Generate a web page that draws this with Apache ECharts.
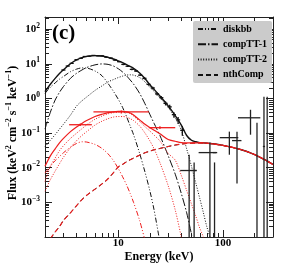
<!DOCTYPE html>
<html><head><meta charset="utf-8">
<script src="https://cdn.jsdelivr.net/npm/echarts@6/dist/echarts.min.js"></script>
<style>html,body{margin:0;padding:0;background:#fff}#c{width:303px;height:265px}</style>
</head><body><div id="c"></div>
<script>
// ---- data (energy keV, flux keV^2 cm^-2 s^-1 keV^-1) ----
const modelE = [2,2.25,2.5,2.75,3,3.5,4,4.5,5,6,7,8,9,10,11,12,13,14,16,18,20,22,25,30,35,40,45,50,55,60,65,70,75,80,100,150,200,250,300];
const diskbbBlack = [1.4,2.1,2.8,3.6,4.3,5.9,7.0,7.6,7.5,6.2,4.5,2.7,1.6,0.95,0.55,0.3,0.16,0.09,0.026,0.0075,0.0022,0.0006,0.00007,null,null,null,null,null,null,null,null,null,null,null,null,null,null,null,null];
const compTT1Black = [0.13,0.4,0.9,1.5,2.2,3.8,5.3,6.6,7.8,9.3,9.9,9.6,8.6,7.2,5.8,4.5,3.4,2.6,1.4,0.7,0.35,0.19,0.085,0.022,0.0065,0.0018,0.0005,0.00012,0.00003,null,null,null,null,null,null,null,null,null,null];
const compTT2Black = [0.04,0.062,0.09,0.13,0.18,0.33,0.6,0.85,1.1,1.7,2.3,3.0,3.5,4.0,4.4,4.7,4.8,4.7,4.0,3.0,2.1,1.6,1.05,0.55,0.27,0.12,0.035,0.011,0.0036,0.0013,0.0005,0.0002,0.0001,0.00004,null,null,null,null,null];
const nthComp = [0.00006,0.00009,0.00014,0.0002,0.0003,0.0005,0.0008,0.0012,0.0016,0.0024,0.0034,0.0048,0.0072,0.0105,0.0125,0.0148,0.017,0.019,0.023,0.027,0.03,0.033,0.036,0.041,0.045,0.048,0.05,0.051,0.052,0.052,0.052,0.051,0.05,0.049,0.044,0.033,0.024,0.017,0.0124];
const totalBlack = [1.57,2.56,3.79,5.23,6.68,10.0,12.9,15.05,16.4,17.2,16.7,15.3,13.7,12.15,10.75,9.5,8.36,7.39,5.45,3.74,2.48,1.82,1.17,0.61,0.32,0.17,0.085,0.062,0.056,0.053,0.052,0.051,0.05,0.049,0.044,0.033,0.024,0.017,0.0124];
const diskbbRed = [0.007,0.011,0.016,0.021,0.027,0.039,0.05,0.056,0.055,0.047,0.036,0.025,0.016,0.0095,0.0055,0.0032,0.0018,0.001,0.0003,0.00008,null,null,null,null,null,null,null,null,null,null,null,null,null,null,null,null,null,null,null];
const compTT1Red = [0.0021,0.0045,0.008,0.013,0.02,0.038,0.06,0.085,0.11,0.17,0.22,0.26,0.29,0.3,0.3,0.29,0.26,0.23,0.16,0.1,0.06,0.035,0.014,0.003,0.0006,0.0001,0.00002,null,null,null,null,null,null,null,null,null,null,null,null];
const compTT2Red = [0.004,0.011,0.019,0.031,0.043,0.07,0.099,0.133,0.173,0.25,0.31,0.36,0.387,0.40,0.40,0.39,0.37,0.31,0.217,0.153,0.115,0.087,0.059,0.026,0.0165,0.006,0.0022,0.0009,0.0004,0.00018,0.0001,0.00005,null,null,null,null,null,null,null];
const totalRed = [0.011,0.022,0.035,0.052,0.07,0.11,0.15,0.19,0.23,0.30,0.35,0.39,0.41,0.42,0.42,0.41,0.38,0.33,0.24,0.18,0.145,0.12,0.095,0.065,0.058,0.053,0.052,0.052,0.052,0.052,0.052,0.051,0.05,0.049,0.044,0.033,0.024,0.017,0.0124];

// black spectrum data points
const blackE  = [3.0,3.3,3.6,4.0,4.4,4.8,5.3,5.8,6.4,7.0,7.7,8.5,9.3,10.2,11.2,12.3,13.5,14.8,16.2,17.8,19.5,21.4,23.5,25.8,28.3,31.0,34.0,37.3,40.9];
const blackF  = [6.6,8.6,10.3,13.1,14.4,16.2,16.6,17.4,17.0,16.9,15.5,14.6,12.8,11.5,9.6,8.5,6.9,6.2,4.7,3.8,2.55,2.0,1.35,1.05,0.72,0.57,0.34,0.24,0.12];
const blackRelErr = [0.03,0.03,0.03,0.03,0.03,0.03,0.03,0.03,0.03,0.03,0.04,0.04,0.04,0.04,0.05,0.05,0.05,0.06,0.06,0.07,0.08,0.09,0.1,0.11,0.13,0.15,0.18,0.22,0.3];
// high-energy black points: E, Elo, Ehi, F, Flo, Fhi (Flo 0 = to bottom)
const hxE   = [47.5, 53, 75, 83, 115, 136, 183, 211, 246, 264];
const hxElo = [39, 50, 58.5, 80, 93, 122, 139, 211, 240, 264];
const hxEhi = [56, 56, 88, 86, 140, 150, 227, 211, 252, 264];
const hxF   = [0.0083, 0.0083, 0.0273, 0.0273, 0.0737, 0.0606, 0.276, 0.03, 0.041, 0.05];
const hxFlo = [0, 0, 0, 0, 0.0237, 0.0035, 0.0897, 0, 0, 0];
const hxFhi = [0.0237, 0.0142, 0.053, 0.0142, 0.11, 0.11, 0.47, 0.2, 1.12, 1.12];
// red spectrum data points
const redE   = [4.34, 10.7, 25];
const redElo = [3.4, 5.8, 19.6];
const redEhi = [5.6, 19.6, 35];
const redF   = [0.174, 0.41, 0.143];
const redFlo = [0.16, 0.37, 0.13];
const redFhi = [0.19, 0.45, 0.157];

const xMajor = [10, 100];
const xMinor = [3,4,5,6,7,8,9,20,30,40,50,60,70,80,90,200];
const yMajor = [1e-3,1e-2,1e-1,1,10,100];
const legendNames = ['diskbb','compTT-1','compTT-2','nthComp'];

// ---- build ----
const L = Math.log10;
const yMinorArr = [];
for (let k = -4; k <= 2; k++) for (let m = 2; m <= 9; m++) { const v = L(m) + k; if (v < 2.35) yMinorArr.push(v); }
const FONT = 'Liberation Serif';
const BLACK = '#111', RED = '#ee1c1c';

function curve(arr){ return modelE.map((e,i)=> arr[i]==null ? [L(e), null] : [L(e), L(arr[i])]); }
function lineS(name, arr, color, type, width, z){
  return {type:'line', name, data: curve(arr), showSymbol:false, symbol:'none', smooth:0.3, connectNulls:false,
    lineStyle:{color, type, width}, itemStyle:{color}, z: z||2, silent:true, clip:true};
}
function errS(name, color, rows, width){
  return {type:'custom', name, clip:true, silent:true, z:5,
    data: rows,
    renderItem: (p, api) => {
      const x = api.value(0), y = api.value(1), xl = api.value(2), xh = api.value(3), yl = api.value(4), yh = api.value(5);
      const a = api.coord([xl, y]), b = api.coord([xh, y]), c = api.coord([x, yl]), d = api.coord([x, yh]);
      const st = {stroke: color, lineWidth: width};
      return {type:'group', children:[
        {type:'line', shape:{x1:a[0], y1:a[1], x2:b[0], y2:b[1]}, style:st},
        {type:'line', shape:{x1:c[0], y1:c[1], x2:d[0], y2:d[1]}, style:st}
      ]};
    }};
}
const blackRows = blackE.map((e,i)=>[L(e), L(blackF[i]), L(e*0.955), L(e*1.045), L(blackF[i]*(1-blackRelErr[i])), L(blackF[i]*(1+blackRelErr[i]))]);
const hxRows = hxE.map((e,i)=>[L(e), L(hxF[i]), L(hxElo[i]), L(hxEhi[i]), hxFlo[i] > 0 ? L(hxFlo[i]) : -5, L(hxFhi[i])]);
const redRows = redE.map((e,i)=>[L(e), L(redF[i]), L(redElo[i]), L(redEhi[i]), L(redFlo[i]), L(redFhi[i])]);

const X_MIN = L(2), X_MAX = L(300), Y_MIN = -4, Y_MAX = 2.35;
const tickCol = '#222';
function xAx(pos, vals, len, line, labels){
  return {type:'value', position:pos, min:X_MIN, max:X_MAX, gridIndex:0,
    axisLine:{show:line, onZero:false, lineStyle:{color:tickCol, width:1}},
    axisTick:{show:true, inside:true, length:len, customValues:vals, lineStyle:{color:tickCol, width:1}},
    axisLabel: labels ? {show:true, customValues:vals, margin:1, color:'#000', fontFamily:FONT, fontWeight:'bold', fontSize:11,
      formatter:(v)=> String(Math.round(Math.pow(10, v)))} : {show:false},
    splitLine:{show:false}};
}
function yAx(pos, vals, len, line, labels){
  return {type:'value', position:pos, min:Y_MIN, max:Y_MAX, gridIndex:0,
    axisLine:{show:line, onZero:false, lineStyle:{color:tickCol, width:1}},
    axisTick:{show:true, inside:true, length:len, customValues:vals, lineStyle:{color:tickCol, width:1}},
    axisLabel: labels ? {show:true, customValues:vals, margin:5, color:'#000',
      formatter:(v)=> '{b|10}{s|' + String(Math.round(v)).replace('-', '\u2212') + '}',
      rich:{b:{fontFamily:FONT, fontWeight:'bold', fontSize:11, color:'#000'},
            s:{fontFamily:FONT, fontWeight:'bold', fontSize:7.5, color:'#000', padding:[0,0,7,0]}}} : {show:false},
    splitLine:{show:false}};
}
const xMajL = xMajor.map(L), xMinL = xMinor.map(L), yMajL = yMajor.map(L);

const option = {
  animation:false,
  backgroundColor:'#fff',
  grid:{left:45, right:30, top:17, bottom:28, containLabel:false, outerBoundsMode:'none'},
  xAxis:[
    Object.assign(xAx('bottom', xMajL, 7, true, true), {name:'Energy (keV)', nameLocation:'middle', nameGap:14, nameMoveOverlap:false,
      nameTextStyle:{fontFamily:FONT, fontWeight:'bold', fontSize:12, color:'#000'}}),
    xAx('bottom', xMinL, 4, false, false),
    xAx('top', xMajL, 7, true, false),
    xAx('top', xMinL, 4, false, false)
  ],
  yAxis:[
    yAx('left', yMajL, 7, true, true),
    yAx('left', yMinorArr, 4, false, false),
    yAx('right', yMajL, 7, true, false),
    yAx('right', yMinorArr, 4, false, false)
  ],
  legend:{data:legendNames, orient:'vertical', left:193, top:21, backgroundColor:'#cbcbcb', borderRadius:2,
    padding:[3,5,3,4], itemWidth:20, itemHeight:8, itemGap:5.3,
    itemStyle:{opacity:0},
    textStyle:{fontFamily:FONT, fontWeight:'bold', fontSize:10, color:'#000'}},
  graphic:[
    {type:'text', left:52, top:23, style:{text:'(c)', font:'bold 21px "Liberation Serif"', fill:'#000'}},
    {type:'text', x:12.5, y:133, rotation:Math.PI/2,
      style:{text:'Flux (keV{s|2} cm{s|\u22122} s{s|\u22121} keV{s|\u22121})', align:'center', verticalAlign:'middle',
        font:'bold 12px "Liberation Serif"', fill:'#000',
        rich:{s:{fontFamily:FONT, fontWeight:'bold', fontSize:8, fill:'#000', padding:[0,0,7,0]}}}}
  ],
  series:[
    lineS('diskbb', diskbbBlack, BLACK, [5,2,1,2,1,2], 1),
    lineS('compTT-1', compTT1Black, BLACK, [8,2,1.5,2], 1),
    lineS('compTT-2', compTT2Black, BLACK, [1,1.6], 1),
    lineS('nthComp', nthComp, BLACK, [5,3], 1, 1),
    lineS('total', totalBlack, BLACK, 'solid', 1.4),
    errS('blackData', BLACK, blackRows, 1.3),
    errS('blackHX', '#222', hxRows, 1.3),
    lineS('diskbbR', diskbbRed, RED, [5,2,1,2,1,2], 1, 3),
    lineS('compTT1R', compTT1Red, RED, [1,1.6], 1, 3),
    lineS('compTT2R', compTT2Red, RED, [1,1.6], 1, 3),
    lineS('nthCompR', nthComp, RED, [5,3], 1.1, 3),
    lineS('totalR', totalRed, RED, 'solid', 1.2, 3),
    errS('redData', RED, redRows, 1.3)
  ]
};
const chart = echarts.init(document.getElementById('c'), null, {renderer:'canvas'});
chart.setOption(option);
</script></body></html>
